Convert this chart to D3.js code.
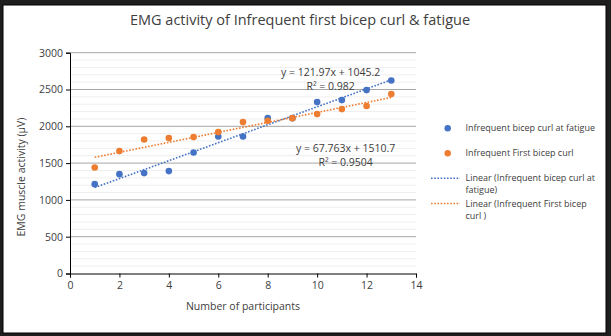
<!DOCTYPE html>
<html>
<head>
<meta charset="utf-8">
<script src="https://cdn.jsdelivr.net/npm/d3@7"></script>
<style>
  body { margin: 0; background: #1e1e1e; }
  text { font-family: "Open Sans", "Liberation Sans", sans-serif; fill: #404040; }
</style>
</head>
<body>
<div id="chart"></div>
<script>
// participants 1..13 and EMG readings (µV)
var participants = [1, 2, 3, 4, 5, 6, 7, 8, 9, 10, 11, 12, 13];
var fatigueValues = [1214, 1350, 1364, 1391, 1645, 1862, 1862, 2111, 2111, 2329, 2356, 2492, 2623];
var firstValues = [1441, 1663, 1821, 1840, 1853, 1921, 2057, 2075, 2111, 2166, 2234, 2275, 2438];

// linear trend coefficients [slope, intercept, r²]
var fatigueTrend = [121.97, 1045.2, 0.982];
var firstTrend = [67.763, 1510.7, 0.9504];

var xTicks = [0, 2, 4, 6, 8, 10, 12, 14];
var yTicks = [0, 500, 1000, 1500, 2000, 2500, 3000];

var colors = { fatigue: "#4472c4", first: "#ed7d31" };

var W = 611, H = 336;
var plot = { left: 70, right: 416, top: 52.7, bottom: 273.5 };

var svg = d3.select("#chart").append("svg")
    .attr("width", W)
    .attr("height", H);

// white chart panel inside the dark frame
svg.append("rect")
    .attr("x", 3).attr("y", 5)
    .attr("width", 603).attr("height", 328)
    .attr("fill", "#fff")
    .attr("stroke", "#000")
    .attr("stroke-width", 1);

var xScale = d3.scaleLinear().domain([0, 14]).range([plot.left, plot.right]);
var yScale = d3.scaleLinear().domain([0, 3000]).range([plot.bottom, plot.top]);

// minor and major gridlines
svg.append("g")
    .selectAll("line")
    .data(d3.range(100, 3001, 100).filter(function(v) { return v % 500 !== 0; }))
    .enter().append("line")
    .attr("x1", plot.left).attr("x2", plot.right)
    .attr("y1", function(d) { return yScale(d); })
    .attr("y2", function(d) { return yScale(d); })
    .attr("stroke", "#efefef").attr("stroke-width", 1);

svg.append("g")
    .selectAll("line")
    .data(yTicks.slice(1))
    .enter().append("line")
    .attr("x1", plot.left).attr("x2", plot.right)
    .attr("y1", function(d) { return yScale(d); })
    .attr("y2", function(d) { return yScale(d); })
    .attr("stroke", "#a6a6a6").attr("stroke-width", 1);

// axes
var xAxis = d3.axisBottom(xScale).tickValues(xTicks).tickSize(4).tickPadding(4);
var yAxis = d3.axisLeft(yScale).tickValues(yTicks).tickFormat(d3.format("d")).tickSize(4).tickPadding(3);

var gx = svg.append("g")
    .attr("transform", "translate(0," + plot.bottom + ")")
    .call(xAxis);
var gy = svg.append("g")
    .attr("transform", "translate(" + plot.left + ",0)")
    .call(yAxis);

[gx, gy].forEach(function(g) {
    g.select(".domain").attr("stroke", "#000");
    g.selectAll(".tick line").attr("stroke", "#000");
    g.selectAll(".tick text")
        .attr("font-size", 10.5)
        .style("font-family", "'Open Sans', 'Liberation Sans', sans-serif")
        .attr("fill", "#404040");
});

// trend lines from the fitted coefficients
function trendLine(coef) {
    var xs = [participants[0], participants[participants.length - 1]];
    return xs.map(function(x) { return [x, coef[0] * x + coef[1]]; });
}
var line = d3.line()
    .x(function(d) { return xScale(d[0]); })
    .y(function(d) { return yScale(d[1]); });

svg.append("path")
    .datum(trendLine(fatigueTrend))
    .attr("d", line)
    .attr("fill", "none")
    .attr("stroke", colors.fatigue)
    .attr("stroke-width", 1.6)
    .attr("stroke-dasharray", "1.6,1.6");

svg.append("path")
    .datum(trendLine(firstTrend))
    .attr("d", line)
    .attr("fill", "none")
    .attr("stroke", colors.first)
    .attr("stroke-width", 1.6)
    .attr("stroke-dasharray", "1.6,1.6");

// scatter markers
function drawPoints(values, color) {
    svg.append("g")
        .selectAll("circle")
        .data(values)
        .enter().append("circle")
        .attr("cx", function(d, i) { return xScale(participants[i]); })
        .attr("cy", function(d) { return yScale(d); })
        .attr("r", 3.3)
        .attr("fill", color);
}
drawPoints(fatigueValues, colors.fatigue);
drawPoints(firstValues, colors.first);

// equation labels
function fmt(coef) {
    return "y = " + coef[0] + "x + " + coef[1];
}
var eqLabels = [
    { text: fmt(fatigueTrend), x: 330.7, y: 72.3 },
    { text: "R² = " + fatigueTrend[2], x: 330.7, y: 86.7 },
    { text: fmt(firstTrend), x: 345.7, y: 148.3 },
    { text: "R² = " + firstTrend[2], x: 345.7, y: 162.7 }
];
svg.append("g")
    .selectAll("text")
    .data(eqLabels)
    .enter().append("text")
    .attr("x", function(d) { return d.x; })
    .attr("y", function(d) { return d.y; })
    .attr("dy", "0.35em")
    .attr("text-anchor", "middle")
    .attr("font-size", 10.5)
    .text(function(d) { return d.text; });

// title and axis titles
svg.append("text")
    .attr("x", 300).attr("y", 20).attr("dy", "0.35em")
    .attr("text-anchor", "middle")
    .attr("font-size", 14.5)
    .text("EMG activity of Infrequent first bicep curl & fatigue");

svg.append("text")
    .attr("x", 243).attr("y", 306.5).attr("dy", "0.35em")
    .attr("text-anchor", "middle")
    .attr("font-size", 10.5)
    .text("Number of participants");

svg.append("text")
    .attr("transform", "translate(21.7,177) rotate(-90)")
    .attr("dy", "0.35em")
    .attr("text-anchor", "middle")
    .attr("font-size", 10.5)
    .text("EMG muscle activity (µV)");

// legend
var legend = svg.append("g").attr("font-size", 9);
var dotItems = [
    { label: "Infrequent bicep curl at fatigue", color: colors.fatigue, y: 128.3 },
    { label: "Infrequent First bicep curl", color: colors.first, y: 153.3 }
];
dotItems.forEach(function(d) {
    legend.append("circle").attr("cx", 447.7).attr("cy", d.y).attr("r", 3.2).attr("fill", d.color);
    legend.append("text").attr("x", 465.5).attr("y", d.y).attr("dy", "0.35em").text(d.label);
});
var lineItems = [
    { lines: ["Linear (Infrequent bicep curl at", "fatigue)"], color: colors.fatigue, y: 178.3 },
    { lines: ["Linear (Infrequent First bicep", "curl )"], color: colors.first, y: 203.5 }
];
lineItems.forEach(function(d) {
    legend.append("line")
        .attr("x1", 431).attr("x2", 460)
        .attr("y1", d.y).attr("y2", d.y)
        .attr("stroke", d.color)
        .attr("stroke-width", 1.6)
        .attr("stroke-dasharray", "1.6,1.6");
    d.lines.forEach(function(t, i) {
        legend.append("text").attr("x", 465.5).attr("y", d.y + i * 12)
            .attr("dy", "0.35em").text(t);
    });
});
</script>
</body>
</html>
